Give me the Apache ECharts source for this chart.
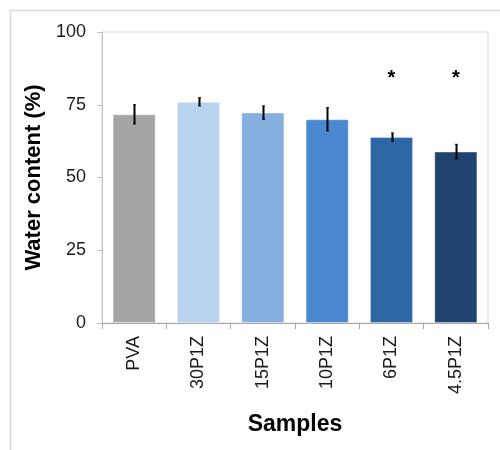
<!DOCTYPE html>
<html>
<head>
<meta charset="utf-8">
<script src="https://cdn.jsdelivr.net/npm/echarts@6/dist/echarts.min.js"></script>
<style>
html,body{margin:0;padding:0;background:#fff;}
#chart{width:500px;height:450px;}
</style>
</head>
<body>
<div id="chart"></div>
<script>
const categories = ['PVA', '30P1Z', '15P1Z', '10P1Z', '6P1Z', '4.5P1Z'];
const waterContent = [71.7, 76.0, 72.3, 70.0, 63.9, 58.9];
const errors = [3.3, 1.4, 2.3, 4.0, 1.4, 2.5];
const barColors = ['#A5A5A5', '#B9D3EE', '#84AFDF', '#4A89D0', '#2E67A6', '#20446F'];
const significance = ['', '', '', '', '*', '*'];
const markerLevel = 84;
const yTicks = [0, 25, 50, 75, 100];

const FONT = "'Liberation Sans', Arial, sans-serif";
const chart = echarts.init(document.getElementById('chart'), null, {renderer: 'canvas'});

const option = {
  animation: false,
  backgroundColor: '#fff',
  graphic: [
    {type: 'line', shape: {x1: 10, y1: 10.5, x2: 500, y2: 10.5}, style: {stroke: '#D9D9D9', lineWidth: 1.5}},
    {type: 'line', shape: {x1: 10.5, y1: 10, x2: 10.5, y2: 450}, style: {stroke: '#D9D9D9', lineWidth: 1.5}}
  ],
  grid: {left: 102, right: 12, top: 32, bottom: 127, show: true, borderColor: '#D9D9D9', borderWidth: 1, backgroundColor: 'transparent'},
  xAxis: {
    type: 'category',
    data: categories,
    name: 'Samples',
    nameLocation: 'middle',
    nameGap: 90,
    nameTextStyle: {fontFamily: FONT, fontSize: 23, fontWeight: 'bold', color: '#000'},
    axisLine: {lineStyle: {color: '#A6A6A6', width: 1}},
    axisTick: {show: true, length: 6, lineStyle: {color: '#A6A6A6'}},
    axisLabel: {rotate: 90, margin: 13, fontFamily: FONT, fontSize: 18, color: '#1a1a1a'}
  },
  yAxis: {
    type: 'value',
    min: 0, max: 100, interval: 25,
    name: 'Water content (%)',
    nameLocation: 'middle',
    nameGap: 57,
    nameTextStyle: {fontFamily: FONT, fontSize: 22, fontWeight: 'bold', color: '#000'},
    axisLine: {show: true, lineStyle: {color: '#BFBFBF', width: 1}},
    axisTick: {show: true, length: 5, lineStyle: {color: '#BFBFBF'}},
    splitLine: {show: false},
    axisLabel: {margin: 16, fontFamily: FONT, fontSize: 18, color: '#1a1a1a',
      formatter: v => yTicks.includes(v) ? String(v) : ''}
  },
  series: [
    {
      type: 'bar',
      data: waterContent.map((v, i) => ({value: v, itemStyle: {color: barColors[i]}})),
      barCategoryGap: '33%',
      itemStyle: {borderColor: 'rgba(255,255,255,0.35)', borderWidth: 1},
      z: 2
    },
    {
      type: 'custom',
      data: waterContent.map((v, i) => [i, v - errors[i], v + errors[i]]),
      renderItem: function (params, api) {
        const lo = api.coord([api.value(0), api.value(1)]);
        const hi = api.coord([api.value(0), api.value(2)]);
        const x = Math.round(lo[0]) + 0.5;
        return {
          type: 'group',
          children: [
            {type: 'line', shape: {x1: x, y1: hi[1], x2: x, y2: lo[1]}, style: {stroke: '#000', lineWidth: 2}},
            {type: 'line', shape: {x1: x - 1.5, y1: hi[1], x2: x + 1.5, y2: hi[1]}, style: {stroke: '#000', lineWidth: 1}},
            {type: 'line', shape: {x1: x - 1.5, y1: lo[1], x2: x + 1.5, y2: lo[1]}, style: {stroke: '#000', lineWidth: 1}}
          ]
        };
      },
      z: 5
    },
    {
      type: 'custom',
      data: significance.map((s, i) => [i, markerLevel, s]),
      renderItem: function (params, api) {
        const p = api.coord([api.value(0), api.value(1)]);
        const txt = significance[params.dataIndex];
        if (!txt) return null;
        return {
          type: 'text',
          x: p[0], y: p[1],
          style: {text: txt, fill: '#000', font: 'bold 20px ' + FONT, align: 'center', verticalAlign: 'middle'}
        };
      },
      z: 6
    }
  ]
};
chart.setOption(option);
</script>
</body>
</html>
